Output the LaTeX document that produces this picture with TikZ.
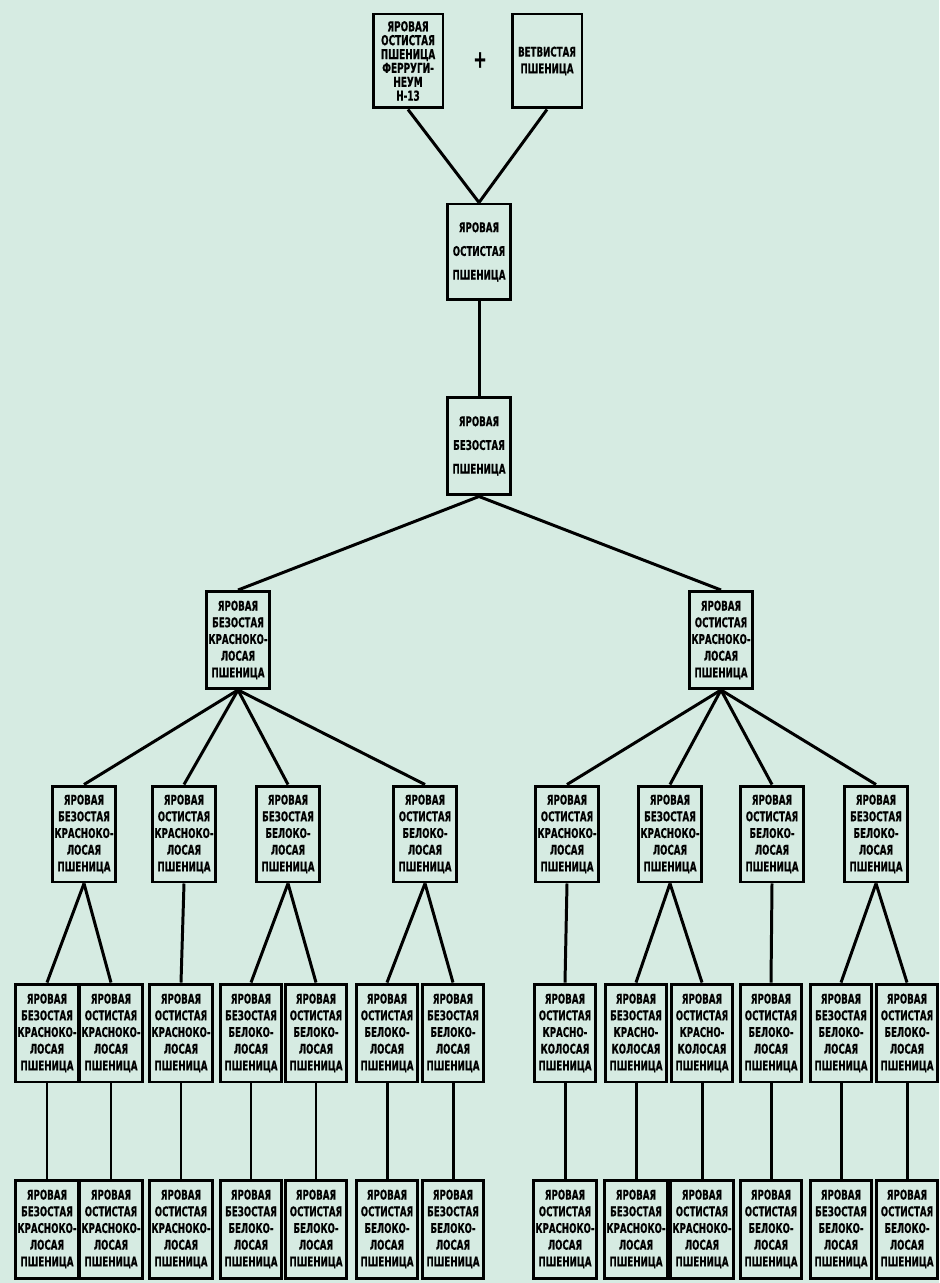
\documentclass[tikz,border=0pt]{standalone}
\usepackage{fontspec}
\setmainfont{DejaVu Sans Condensed}[FakeStretch=0.72,FakeBold=0.6]
\definecolor{paper}{RGB}{214,235,226}

\begin{document}
\begin{tikzpicture}[x=0.02cm,y=-0.02cm,line width=1.7pt,
  box/.style={draw,align=center,inner sep=1pt,minimum width=1.26cm,minimum height=1.92cm,
    font=\fontsize{7.6}{9.5}\selectfont\bfseries},
  low/.style={box,minimum width=1.21cm,minimum height=1.96cm},
  wide/.style={box,font=\fontsize{7.6}{13.5}\selectfont\bfseries}]
  \fill[paper](0,0)rectangle(939,1283);
  \useasboundingbox(0,0)rectangle(939,1283);
  \node[box,minimum width=1.4cm,minimum height=1.88cm,font=\fontsize{7.8}{7.9}\selectfont\bfseries](ferr)at(408,61)
    {ЯРОВАЯ\\ОСТИСТАЯ\\ПШЕНИЦА\\ФЕРРУГИ-\\НЕУМ\\Н-13};
  \node[box,minimum width=1.4cm,minimum height=1.88cm](vetv)at(547,61){ВЕТВИСТАЯ\\ПШЕНИЦА};
  \node[font=\fontsize{14}{14}\selectfont\bfseries](plus)at(480,60){+};
  \node[wide](ost)at(479,252){ЯРОВАЯ\\ОСТИСТАЯ\\ПШЕНИЦА};
  \node[wide,minimum height=1.96cm](bez)at(479,446){ЯРОВАЯ\\БЕЗОСТАЯ\\ПШЕНИЦА};
  \node[box,minimum width=1.22cm,minimum height=1.94cm](kb)at(238,640){ЯРОВАЯ\\БЕЗОСТАЯ\\КРАСНОКО-\\ЛОСАЯ\\ПШЕНИЦА};
  \node[box,minimum width=1.22cm,minimum height=1.94cm](ko)at(721,640){ЯРОВАЯ\\ОСТИСТАЯ\\КРАСНОКО-\\ЛОСАЯ\\ПШЕНИЦА};
  \draw(ferr.south)--(ost.north);
  \draw(vetv.south)--(ost.north);
  \draw(ost)--(bez);
  \draw(bez.south)--(kb.north);
  \draw(bez.south)--(ko.north);
  \foreach \n/\x/\a/\b in {1/84/БЕЗОСТАЯ/КРАСНОКО-,2/184/ОСТИСТАЯ/КРАСНОКО-,3/288/БЕЗОСТАЯ/БЕЛОКО-,4/425/ОСТИСТАЯ/БЕЛОКО-,
      5/567/ОСТИСТАЯ/КРАСНОКО-,6/670/БЕЗОСТАЯ/КРАСНОКО-,7/772/ОСТИСТАЯ/БЕЛОКО-,8/876/БЕЗОСТАЯ/БЕЛОКО-}
    \node[box](f\n)at(\x,834){ЯРОВАЯ\\\a\\\b\\ЛОСАЯ\\ПШЕНИЦА};
  \foreach \n in {1,...,4}\draw(kb.south)--(f\n.north);
  \foreach \n in {5,...,8}\draw(ko.south)--(f\n.north);
  \foreach \n/\x/\a/\b/\c in {a/47/БЕЗОСТАЯ/КРАСНОКО-/ЛОСАЯ,b/111/ОСТИСТАЯ/КРАСНОКО-/ЛОСАЯ,c/181/ОСТИСТАЯ/КРАСНОКО-/ЛОСАЯ,
      d/251/БЕЗОСТАЯ/БЕЛОКО-/ЛОСАЯ,e/316/ОСТИСТАЯ/БЕЛОКО-/ЛОСАЯ,f/387/ОСТИСТАЯ/БЕЛОКО-/ЛОСАЯ,g/453/БЕЗОСТАЯ/БЕЛОКО-/ЛОСАЯ,
      h/565/ОСТИСТАЯ/КРАСНО-/КОЛОСАЯ,i/636/БЕЗОСТАЯ/КРАСНО-/КОЛОСАЯ,j/702/ОСТИСТАЯ/КРАСНО-/КОЛОСАЯ,
      k/771/ОСТИСТАЯ/БЕЛОКО-/ЛОСАЯ,l/841/БЕЗОСТАЯ/БЕЛОКО-/ЛОСАЯ,m/907/ОСТИСТАЯ/БЕЛОКО-/ЛОСАЯ}
    \node[low](u\n)at(\x,1033){ЯРОВАЯ\\\a\\\b\\\c\\ПШЕНИЦА};
  \foreach \n/\x/\a/\b in {a/47/БЕЗОСТАЯ/КРАСНОКО-,b/111/ОСТИСТАЯ/КРАСНОКО-,c/181/ОСТИСТАЯ/КРАСНОКО-,
      d/251/БЕЗОСТАЯ/БЕЛОКО-,e/316/ОСТИСТАЯ/БЕЛОКО-,f/387/ОСТИСТАЯ/БЕЛОКО-,g/453/БЕЗОСТАЯ/БЕЛОКО-,
      h/565/ОСТИСТАЯ/КРАСНОКО-,i/636/БЕЗОСТАЯ/КРАСНОКО-,j/702/ОСТИСТАЯ/КРАСНОКО-,
      k/771/ОСТИСТАЯ/БЕЛОКО-,l/841/БЕЗОСТАЯ/БЕЛОКО-,m/907/ОСТИСТАЯ/БЕЛОКО-}
    \node[low](w\n)at(\x,1229){ЯРОВАЯ\\\a\\\b\\ЛОСАЯ\\ПШЕНИЦА};
  \foreach \p/\n in {1/a,1/b,2/c,3/d,3/e,4/f,4/g,5/h,6/i,6/j,7/k,8/l,8/m}
    \draw(f\p.south)--(u\n.north);
  \foreach \n in {a,...,m}\draw(u\n)--(w\n);
\end{tikzpicture}
\end{document}
